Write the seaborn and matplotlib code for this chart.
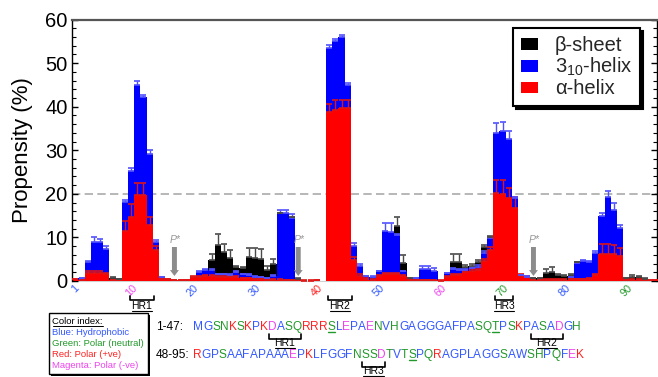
import numpy as np
import pandas as pd
import matplotlib
matplotlib.use("Agg")
import matplotlib.pyplot as plt
import seaborn as sns
from matplotlib.patches import Patch, Rectangle
from matplotlib.lines import Line2D
from matplotlib import font_manager
from matplotlib.ft2font import FT2Font
from matplotlib.ticker import NullLocator
import matplotlib.transforms as mtransforms

# ---------------- data ----------------
residues = list(range(1, 96))
seq_1_47 = "MGSNKSKPKDASQRRRSLEPAENVHGAGGGAFPASQTPSKPASADGH"
seq_48_95 = "RGPSAAFAPAAAEPKLFGGFNSSDTVTSPQRAGPLAGGSAWSHPQFEK"

alpha_helix = [0.4, 0.2, 1.9, 1.9, 1.9, 1.6, 0.2, 0.25, 11.5, 14.7,
               19.7, 19.7, 12.8, 7.0, 0.4, 0.4, 0.2, 0.2, 0.2, 0.85,
               0.85, 1.2, 1.2, 1.0, 0.85, 0.85, 0.85, 0.6, 0.6, 0.4,
               0.4, 0.3, 0.3, 0.3, 0.2, 0.2, 0.3, 0.1, 0.1, 0.15,
               0.0, 38.8, 39.2, 39.6, 39.6, 4.8, 1.2, 0.5, 0.3, 1.1,
               1.6, 1.6, 1.5, 1.15, 0.3, 0.2, 0.2, 0.2, 0.2, 0.1,
               0.9, 1.4, 1.4, 2.0, 2.4, 2.5, 4.6, 7.0, 20.1, 19.9,
               19.1, 16.8, 1.2, 0.9, 0.2, 0.2, 0.3, 0.3, 0.3, 0.3,
               0.4, 0.4, 0.4, 0.5, 1.4, 6.3, 6.3, 6.3, 5.8, 0.3,
               0.3, 0.3, 0.3, 0.2, 0.15]
helix_310 = [0.0, 0.5, 2.4, 7.0, 7.0, 5.8, 0.0, 0.0, 6.7, 10.5,
             25.2, 22.5, 16.3, 2.0, 0.45, 0.0, 0.0, 0.0, 0.0, 0.0,
             1.25, 1.3, 1.3, 0.6, 0.75, 0.55, 1.25, 1.0, 0.8, 0.6,
             0.5, 0.3, 0.9, 15.2, 15.3, 14.2, 0.0, 0.0, 0.0, 0.0,
             0.0, 14.7, 15.9, 16.4, 5.3, 3.2, 2.3, 0.65, 0.7, 1.1,
             9.9, 9.7, 9.0, 1.05, 0.0, 0.4, 2.55, 2.55, 2.1, 0.0,
             0.85, 1.3, 1.2, 0.6, 0.5, 0.8, 1.8, 2.8, 13.9, 14.6,
             13.4, 2.2, 0.1, 0.1, 0.0, 0.0, 0.0, 0.0, 0.0, 0.0,
             0.45, 3.65, 4.25, 3.9, 5.1, 8.6, 13.0, 10.1, 6.3, 0.0,
             0.0, 0.0, 0.0, 0.0, 0.0]
beta_sheet = [0.0, 0.0, 0.0, 0.0, 0.0, 0.0, 0.5, 0.1, 0.0, 0.0,
              0.0, 0.0, 0.0, 0.0, 0.0, 0.0, 0.0, 0.0, 0.0, 0.0,
              0.0, 0.0, 2.3, 6.65, 5.1, 3.95, 1.0, 1.3, 4.2, 4.3,
              4.1, 2.0, 2.8, 0.1, 0.0, 0.2, 0.2, 0.0, 0.0, 0.1,
              0.0, 0.0, 0.0, 0.0, 0.0, 0.0, 0.0, 0.0, 0.0, 0.0,
              0.0, 0.0, 2.1, 2.0, 0.3, 0.0, 0.0, 0.0, 0.0, 0.0,
              0.0, 1.7, 1.8, 0.7, 0.55, 1.1, 1.5, 0.3, 0.0, 0.0,
              0.0, 0.0, 0.0, 0.0, 0.4, 0.4, 1.45, 1.8, 1.1, 0.8,
              0.55, 0.2, 0.0, 0.0, 0.0, 0.0, 0.0, 0.0, 0.0, 0.3,
              0.7, 0.7, 0.2, 0.0, 0.0]

alpha_err = [0.1, 0.1, 0.3, 0.3, 0.3, 0.3, 0.1, 0.1, 2.2, 2.9,
             2.9, 2.9, 1.9, 1.0, 0.1, 0.1, 0.1, 0.1, 0.1, 0.2,
             0.2, 0.2, 0.2, 0.2, 0.2, 0.2, 0.2, 0.1, 0.1, 0.1,
             0.1, 0.1, 0.1, 0.1, 0.1, 0.1, 0.1, 0.05, 0.05, 0.05,
             0.0, 1.9, 2.3, 2.0, 2.0, 0.6, 0.3, 0.1, 0.1, 0.2,
             0.3, 0.3, 0.3, 0.2, 0.1, 0.1, 0.1, 0.1, 0.1, 0.05,
             0.2, 0.3, 0.3, 0.3, 0.3, 0.3, 0.5, 0.8, 3.1, 3.3,
             2.3, 2.5, 0.3, 0.2, 0.1, 0.1, 0.1, 0.1, 0.1, 0.1,
             0.1, 0.1, 0.1, 0.1, 0.3, 2.2, 2.2, 1.95, 1.7, 0.1,
             0.1, 0.1, 0.1, 0.05, 0.05]
helix_310_err = [0.0, 0.1, 0.35, 1.1, 0.8, 0.6, 0.0, 0.0, 0.4, 0.8,
                 0.9, 0.5, 0.9, 0.5, 0.1, 0.0, 0.0, 0.0, 0.0, 0.0,
                 0.2, 0.2, 0.2, 0.1, 0.1, 0.1, 0.1, 0.1, 0.1, 0.1,
                 0.1, 0.1, 0.1, 0.8, 0.8, 1.0, 0.0, 0.0, 0.0, 0.0,
                 0.0, 0.6, 0.4, 0.5, 0.6, 0.8, 0.5, 0.1, 0.1, 0.2,
                 1.9, 1.9, 0.3, 0.2, 0.0, 0.1, 0.7, 0.7, 0.7, 0.0,
                 0.2, 0.2, 0.2, 0.2, 0.2, 0.3, 0.4, 0.3, 2.2, 1.9,
                 1.9, 0.3, 0.1, 0.1, 0.0, 0.0, 0.0, 0.0, 0.0, 0.0,
                 0.1, 0.2, 0.2, 0.2, 0.3, 0.8, 1.4, 1.4, 0.7, 0.0,
                 0.0, 0.0, 0.0, 0.0, 0.0]
beta_err = [0.0, 0.0, 0.0, 0.0, 0.0, 0.0, 0.2, 0.1, 0.0, 0.0,
            0.0, 0.0, 0.0, 0.0, 0.0, 0.0, 0.0, 0.0, 0.0, 0.0,
            0.0, 0.0, 1.3, 2.45, 1.7, 1.75, 0.3, 0.3, 1.9, 2.2,
            2.3, 0.9, 1.0, 0.1, 0.0, 0.1, 0.1, 0.0, 0.0, 0.0,
            0.0, 0.0, 0.0, 0.0, 0.0, 0.0, 0.0, 0.0, 0.0, 0.0,
            0.0, 0.0, 2.0, 1.8, 0.2, 0.0, 0.0, 0.0, 0.0, 0.0,
            0.0, 1.9, 1.9, 0.3, 0.5, 0.4, 0.3, 0.2, 0.0, 0.0,
            0.0, 0.0, 0.0, 0.0, 0.1, 0.1, 0.9, 1.2, 0.2, 0.2,
            0.2, 0.1, 0.0, 0.0, 0.0, 0.0, 0.0, 0.0, 0.0, 0.1,
            0.3, 0.2, 0.1, 0.0, 0.0]

phospho_sites = [17, 37, 75]
hr_regions = {"HR1": (10, 13), "HR2": (42, 45), "HR3": (69, 71)}
xtick_values = [1, 10, 20, 30, 40, 50, 60, 70, 80, 90]
ytick_values = [0, 10, 20, 30, 40, 50, 60]
legend_labels = ["β-sheet", "3$_{10}$-helix", "α-helix"]
index_lines = ["Blue: Hydrophobic", "Green: Polar (neutral)",
               "Red: Polar (+ve)", "Magenta: Polar (-ve)"]

# ---------------- style ----------------
sns.set_theme(style="ticks")
plt.rcParams["font.family"] = ["Liberation Sans", "DejaVu Sans"]
plt.rcParams["mathtext.fontset"] = "custom"
plt.rcParams["mathtext.rm"] = "Liberation Sans"
plt.rcParams["mathtext.it"] = "Liberation Sans:italic"
plt.rcParams["mathtext.bf"] = "Liberation Sans:bold"

C_BLUE, C_GREEN, C_RED, C_MAG = "#3358ff", "#22992a", "#ff2222", "#ee44ee"


def res_color(c):
    if c in "KR":
        return C_RED
    if c in "DE":
        return C_MAG
    if c in "STNQHCY":
        return C_GREEN
    return C_BLUE


full_seq = seq_1_47 + seq_48_95

W, H = 658, 377
AX_L, AX_R, AX_T, AX_B = 72.3, 657.0, 19.5, 281.0
PX_RES = 6.19
fig = plt.figure(figsize=(W / 100, H / 100), dpi=100)
ax = fig.add_axes([AX_L / W, 1 - AX_B / H, (AX_R - AX_L) / W, (AX_B - AX_T) / H])

font_path = font_manager.findfont(font_manager.FontProperties(family="Liberation Sans"))
_ft = FT2Font(font_path)


def advances(s, size):
    _ft.set_size(size, 100)
    return [_ft.load_char(ord(ch)).linearHoriAdvance / 65536.0 for ch in s]


def fx(px):
    return px / W


def fy(py):
    return 1 - py / H


# ---------------- bars (stacked by overlap) ----------------
df = pd.DataFrame({"residue": residues, "alpha": alpha_helix,
                   "h310": helix_310, "beta": beta_sheet})
df["top310"] = df["alpha"] + df["h310"]
df["topbeta"] = df["top310"] + df["beta"]

ax.axhline(20, color="#aaaaaa", lw=1.2, ls=(0, (5, 2.6)), zorder=0.5)

for col, colr in [("topbeta", "#000000"), ("top310", "#0000ff"), ("alpha", "#ff0000")]:
    sns.barplot(data=df, x="residue", y=col, color=colr, native_scale=True,
                width=1.0, errorbar=None, saturation=1, linewidth=0,
                edgecolor="none", antialiased=False, ax=ax)

x = np.array(residues)
a = np.array(alpha_helix)
h = np.array(helix_310)
b = np.array(beta_sheet)
for top, err, seg, ec in [(a, alpha_err, a, "#e01515"),
                          (a + h, helix_310_err, h, "#5050ff"),
                          (a + h + b, beta_err, b, "#4a4a4a")]:
    err = np.array(err)
    m = (seg > 0) & (err > 0)
    ax.errorbar(x[m], top[m], yerr=[np.zeros(m.sum()), err[m]], fmt="none",
                ecolor=ec, elinewidth=1.0, capsize=2.2, capthick=1.2, zorder=3)

# phosphorylation arrows
for site in phospho_sites:
    ax.fill([site - 0.4, site + 0.4, site + 0.4, site + 0.72, site, site - 0.72, site - 0.4],
            [7.8, 7.8, 2.5, 2.5, 1.15, 2.5, 2.5], color="#8c8c8c", lw=0, zorder=4)
    ax.text(site + 0.1, 9.3, "P*", fontsize=7.5, style="italic", color="#9a9a9a",
            ha="center", va="center", zorder=4)

# ---------------- axes ----------------
ax.set_xlim(0.5, 0.5 + (AX_R - AX_L) / PX_RES)
ax.set_ylim(0, 60)
ax.set_xlabel("")
ax.set_yticks(ytick_values)
ax.set_yticks(np.arange(0, 61, 2), minor=True)
ax.set_yticklabels([str(v) for v in ytick_values])
ax.set_xticks(xtick_values)
ax.xaxis.set_minor_locator(NullLocator())
ax.set_xticklabels([str(v) for v in xtick_values], rotation=45, ha="center",
                   fontsize=7.8)
offset = mtransforms.ScaledTranslation(0.02, 0, fig.dpi_scale_trans)
for lab, v in zip(ax.get_xticklabels(), xtick_values):
    lab.set_color(res_color(full_seq[v - 1]))
    lab.set_transform(lab.get_transform() + offset)

ax.tick_params(axis="y", which="both", direction="in", left=True, right=True,
               labelsize=14.5, pad=3.5, colors="black")
ax.tick_params(axis="y", which="major", length=4.5, width=1)
ax.tick_params(axis="y", which="minor", length=3, width=0.8)
ax.tick_params(axis="x", which="both", length=0, pad=1.5)
ax.set_ylabel("Propensity (%)", fontsize=16, labelpad=9, color="black")

for side in ["left", "right"]:
    ax.spines[side].set_color("black")
    ax.spines[side].set_linewidth(1.0)
ax.spines["top"].set_color("#555555")
ax.spines["top"].set_linewidth(1.6)
ax.spines["bottom"].set_color("#d0d0d0")
ax.spines["bottom"].set_linewidth(0.8)
ax.spines["bottom"].set_zorder(0)

# ---------------- legend ----------------
handles = [Patch(facecolor=c, edgecolor="none", linewidth=0, label=l)
           for c, l in zip(["#000000", "#0000ff", "#ff0000"], legend_labels)]
leg = ax.legend(handles=handles, loc="upper right",
                bbox_to_anchor=(fx(640), fy(28.5)), bbox_transform=fig.transFigure,
                fontsize=14.5, frameon=True, fancybox=False,
                shadow={"color": "black", "alpha": 1.0},
                edgecolor="black", framealpha=1, borderpad=0.38,
                labelspacing=0.05, handlelength=0.85, handleheight=0.5,
                handletextpad=0.85, borderaxespad=0)
leg.get_frame().set_linewidth(1.5)

# ---------------- HR brackets under axis ----------------
xt = ax.get_xaxis_transform()


def ya(py):
    return (AX_B - py) / (AX_B - AX_T)


for name, (s, e) in hr_regions.items():
    x0, x1 = s - 0.2, e + 0.7
    ax.plot([x0, x0, x1, x1], [ya(295.5), ya(300), ya(300), ya(295.5)],
            transform=xt, color="black", lw=1.2, clip_on=False)
    cx = (x0 + x1) / 2
    ax.text(cx, ya(306), name, transform=xt, ha="center", va="center",
            fontsize=7.5, color="black", clip_on=False)
    wd = sum(advances(name, 7.5)) / PX_RES
    ax.plot([cx - wd / 2, cx + wd / 2], [ya(311), ya(311)], transform=xt,
            color="black", lw=0.8, clip_on=False)

# ---------------- sequence ----------------
SEQ_X0, SEQ_FS = 193.0, 8.6
for lab, seq, start, base in [("1-47:", seq_1_47, 1, 330.0), ("48-95:", seq_48_95, 48, 358.0)]:
    fig.text(fx(156), fy(base), lab, fontsize=SEQ_FS, color="black",
             ha="left", va="baseline")
    adv = advances(seq, SEQ_FS)
    xpos = SEQ_X0 + np.concatenate([[0.0], np.cumsum(adv)[:-1]])
    for i, ch in enumerate(seq):
        col = res_color(ch)
        fig.text(fx(xpos[i]), fy(base), ch, fontsize=SEQ_FS, color=col,
                 ha="left", va="baseline")
        if start + i in phospho_sites:
            fig.add_artist(Line2D([fx(xpos[i] + 0.5), fx(xpos[i] + adv[i] - 0.5)],
                                  [fy(base + 2), fy(base + 2)], color=col, lw=1.0,
                                  transform=fig.transFigure))
    for name, (s, e) in hr_regions.items():
        if start <= s < start + len(seq):
            bx0 = xpos[s - start] + 0.5
            bx1 = xpos[e - start] + adv[e - start] - 0.5
            fig.add_artist(Line2D([fx(bx0), fx(bx0), fx(bx1), fx(bx1)],
                                  [fy(base + 3.5), fy(base + 8.5), fy(base + 8.5), fy(base + 3.5)],
                                  color="black", lw=1.2, transform=fig.transFigure))
            cx = (bx0 + bx1) / 2
            fig.text(fx(cx), fy(base + 13), name, fontsize=7.5, color="black",
                     ha="center", va="center")
            wpx = sum(advances(name, 7.5))
            fig.add_artist(Line2D([fx(cx - wpx / 2), fx(cx + wpx / 2)],
                                  [fy(base + 17.8), fy(base + 17.8)], color="black",
                                  lw=0.8, transform=fig.transFigure))

# ---------------- colour index box ----------------
bx0, by0, bx1, by1 = 48.5, 313.0, 147.5, 373.5
fig.add_artist(Rectangle((fx(bx0 + 2), fy(by1 + 2)), (bx1 - bx0) / W, (by1 - by0) / H,
                         transform=fig.transFigure, facecolor="black", edgecolor="none"))
fig.add_artist(Rectangle((fx(bx0), fy(by1)), (bx1 - bx0) / W, (by1 - by0) / H,
                         transform=fig.transFigure, facecolor="white", edgecolor="black",
                         lw=1.0))
IDX_FS = 6.8
fig.text(fx(52.5), fy(324), "Color index:", fontsize=IDX_FS, color="black",
         ha="left", va="baseline")
wci = sum(advances("Color index:", IDX_FS))
fig.add_artist(Line2D([fx(52.5), fx(52.5 + wci)], [fy(326), fy(326)], color="black",
                      lw=0.7, transform=fig.transFigure))
for txt, col, base in zip(index_lines, [C_BLUE, C_GREEN, C_RED, C_MAG], [335, 346, 357, 368]):
    fig.text(fx(52.5), fy(base), txt, fontsize=IDX_FS, color=col, ha="left", va="baseline")

fig.savefig("out.png", dpi=100)
